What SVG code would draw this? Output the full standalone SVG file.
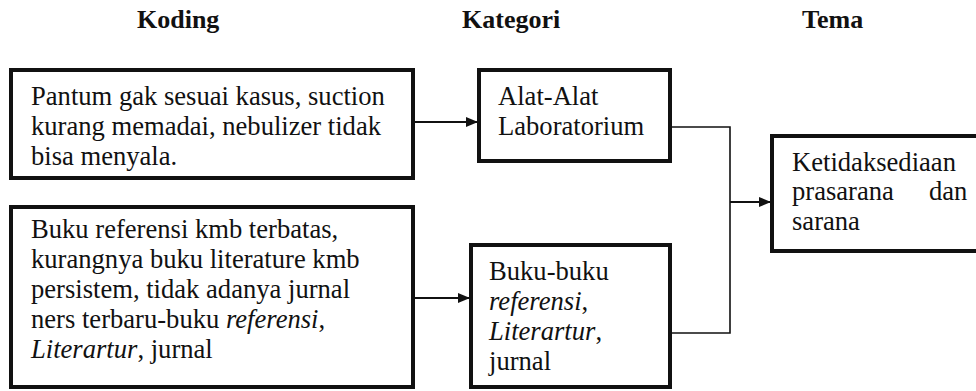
<svg xmlns="http://www.w3.org/2000/svg" width="976" height="391" viewBox="0 0 976 391">
<style>
text{font-family:"Liberation Serif","Times New Roman",serif;font-size:26.6px;fill:#111}
.h{font-weight:bold;font-size:26px}
.i{font-style:italic}
.box{fill:#fff;stroke:#111;stroke-width:4}
.ln{fill:none;stroke:#111;stroke-width:1.6}
.ar{fill:none;stroke:#111;stroke-width:2;marker-end:url(#ah)}
</style>
<defs>
<marker id="ah" markerWidth="12" markerHeight="10" refX="11" refY="5" orient="auto" markerUnits="userSpaceOnUse">
<path d="M0,0 L12,5 L0,10 Z" fill="#111"/>
</marker>
</defs>
<rect width="976" height="391" fill="#fff"/>
<g id="titles">
<text class="h" x="137" y="28">Koding</text>
<text class="h" x="462" y="28">Kategori</text>
<text class="h" x="802" y="28">Tema</text>
</g>
<g id="connectors">
<line class="ar" x1="415" y1="122" x2="477" y2="122"/>
<line class="ar" x1="415" y1="298" x2="469" y2="298"/>
<polyline class="ln" points="672,127 730,127 730,333 672,333"/>
<line class="ar" x1="730" y1="202" x2="770" y2="202"/>
</g>
<g id="koding1">
<rect class="box" x="11" y="70" width="402" height="108"/>
<text x="31" y="105">Pantum gak sesuai kasus, suction</text>
<text x="31" y="135">kurang memadai, nebulizer tidak</text>
<text x="31" y="165">bisa menyala.</text>
</g>
<g id="koding2">
<rect class="box" x="11" y="207" width="402" height="180"/>
<text x="31" y="238">Buku referensi kmb terbatas,</text>
<text x="31" y="268">kurangnya buku literature kmb</text>
<text x="31" y="298">persistem, tidak adanya jurnal</text>
<text x="31" y="328">ners terbaru-buku <tspan class="i">referensi</tspan>,</text>
<text x="31" y="358"><tspan class="i">Literartur</tspan>, jurnal</text>
</g>
<g id="kategori1">
<rect class="box" x="479" y="70" width="191" height="91"/>
<text x="498" y="105">Alat-Alat</text>
<text x="498" y="135">Laboratorium</text>
</g>
<g id="kategori2">
<rect class="box" x="471" y="245" width="199" height="142"/>
<text x="489" y="280">Buku-buku</text>
<text x="489" y="310"><tspan class="i">referensi</tspan>,</text>
<text x="489" y="340"><tspan class="i">Literartur</tspan>,</text>
<text x="489" y="370">jurnal</text>
</g>
<g id="tema">
<rect class="box" x="772" y="136" width="250" height="115"/>
<text x="792" y="171">Ketidaksediaan</text>
<text x="792" y="200">prasarana</text>
<text x="929" y="200">dan</text>
<text x="792" y="230">sarana</text>
</g>
</svg>
